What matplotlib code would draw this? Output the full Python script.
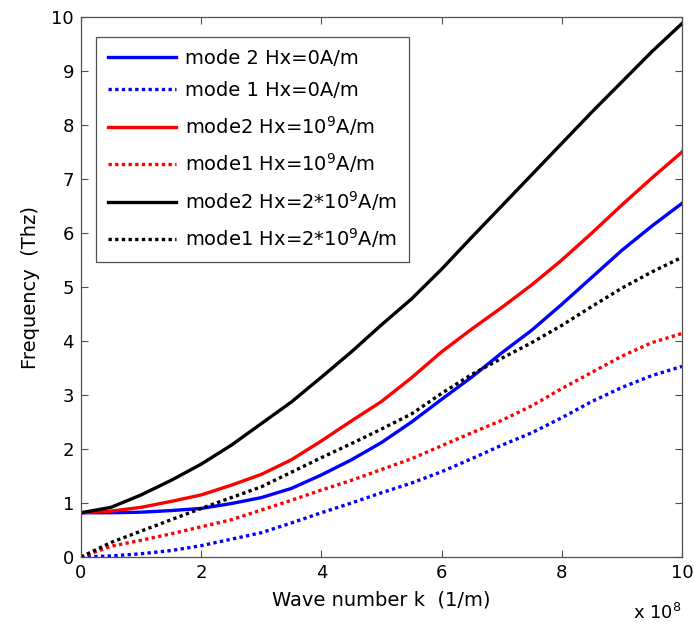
import matplotlib
matplotlib.use('Agg')
import matplotlib.pyplot as plt

# wave number k in units of 1e8 1/m
k = [0, 0.5, 1, 1.5, 2, 2.5, 3, 3.5, 4, 4.5, 5,
     5.5, 6, 6.5, 7, 7.5, 8, 8.5, 9, 9.5, 10]

# frequency (THz)
mode2_h0 = [0.82, 0.82, 0.83, 0.86, 0.90, 0.99, 1.10, 1.27, 1.52, 1.80, 2.12,
            2.50, 2.92, 3.33, 3.78, 4.20, 4.68, 5.18, 5.68, 6.13, 6.55]
mode1_h0 = [0.0, 0.02, 0.06, 0.12, 0.21, 0.33, 0.45, 0.63, 0.82, 1.00, 1.19,
            1.37, 1.58, 1.82, 2.07, 2.30, 2.58, 2.88, 3.14, 3.36, 3.53]
mode2_h1 = [0.82, 0.85, 0.92, 1.03, 1.15, 1.33, 1.53, 1.80, 2.15, 2.52, 2.88,
            3.32, 3.80, 4.22, 4.62, 5.04, 5.50, 6.00, 6.52, 7.02, 7.50]
mode1_h1 = [0.0, 0.20, 0.31, 0.43, 0.56, 0.69, 0.87, 1.05, 1.24, 1.42, 1.62,
            1.82, 2.06, 2.30, 2.53, 2.80, 3.12, 3.42, 3.72, 3.97, 4.14]
mode2_h2 = [0.82, 0.92, 1.15, 1.42, 1.72, 2.07, 2.47, 2.87, 3.33, 3.80, 4.30,
            4.78, 5.33, 5.92, 6.50, 7.08, 7.66, 8.24, 8.80, 9.36, 9.88]
mode1_h2 = [0.0, 0.27, 0.48, 0.69, 0.90, 1.10, 1.30, 1.57, 1.84, 2.10, 2.37,
            2.65, 3.03, 3.38, 3.68, 3.97, 4.29, 4.64, 4.98, 5.28, 5.55]

labels = ['mode 2 Hx=0A/m', 'mode 1 Hx=0A/m',
          'mode2 Hx=10$^9$A/m', 'mode1 Hx=10$^9$A/m',
          'mode2 Hx=2*10$^9$A/m', 'mode1 Hx=2*10$^9$A/m']

fig = plt.figure(figsize=(6.94, 6.26), dpi=100)
ax = fig.add_axes([0.1167, 0.1102, 0.8660, 0.8626])

lw = 2.4
dots = (1, 1)
ax.plot(k, mode2_h0, color='b', lw=lw, label=labels[0])
ax.plot(k, mode1_h0, color='b', lw=lw, dashes=dots, label=labels[1])
ax.plot(k, mode2_h1, color='r', lw=lw, label=labels[2])
ax.plot(k, mode1_h1, color='r', lw=lw, dashes=dots, label=labels[3])
ax.plot(k, mode2_h2, color='k', lw=lw, label=labels[4])
ax.plot(k, mode1_h2, color='k', lw=lw, dashes=dots, label=labels[5])

ax.set_xlim(0, 10)
ax.set_ylim(0, 10)
ax.set_xticks(range(0, 11, 2))
ax.set_yticks(range(0, 11))
ax.tick_params(direction='in', length=5, width=0.8, top=True, right=True,
               labelsize=13, color='#505050', pad=5)
for s in ax.spines.values():
    s.set_color('#505050')
    s.set_linewidth(0.9)

ax.set_xlabel('Wave number k  (1/m)', fontsize=14, labelpad=6)
ax.set_ylabel('Frequency  (Thz)', fontsize=14, labelpad=8)
ax.text(1.0, -0.085, r'x 10$^8$', transform=ax.transAxes, ha='right',
        va='top', fontsize=13)

leg = ax.legend(loc='upper left', bbox_to_anchor=(0.025, 0.963), fontsize=14,
                frameon=True, fancybox=False, framealpha=1, handlelength=3.5,
                labelspacing=0.7, borderpad=0.6, handletextpad=0.5,
                borderaxespad=0)
leg.get_frame().set_edgecolor('#505050')
leg.get_frame().set_linewidth(0.9)

fig.savefig('out.png', dpi=100)
